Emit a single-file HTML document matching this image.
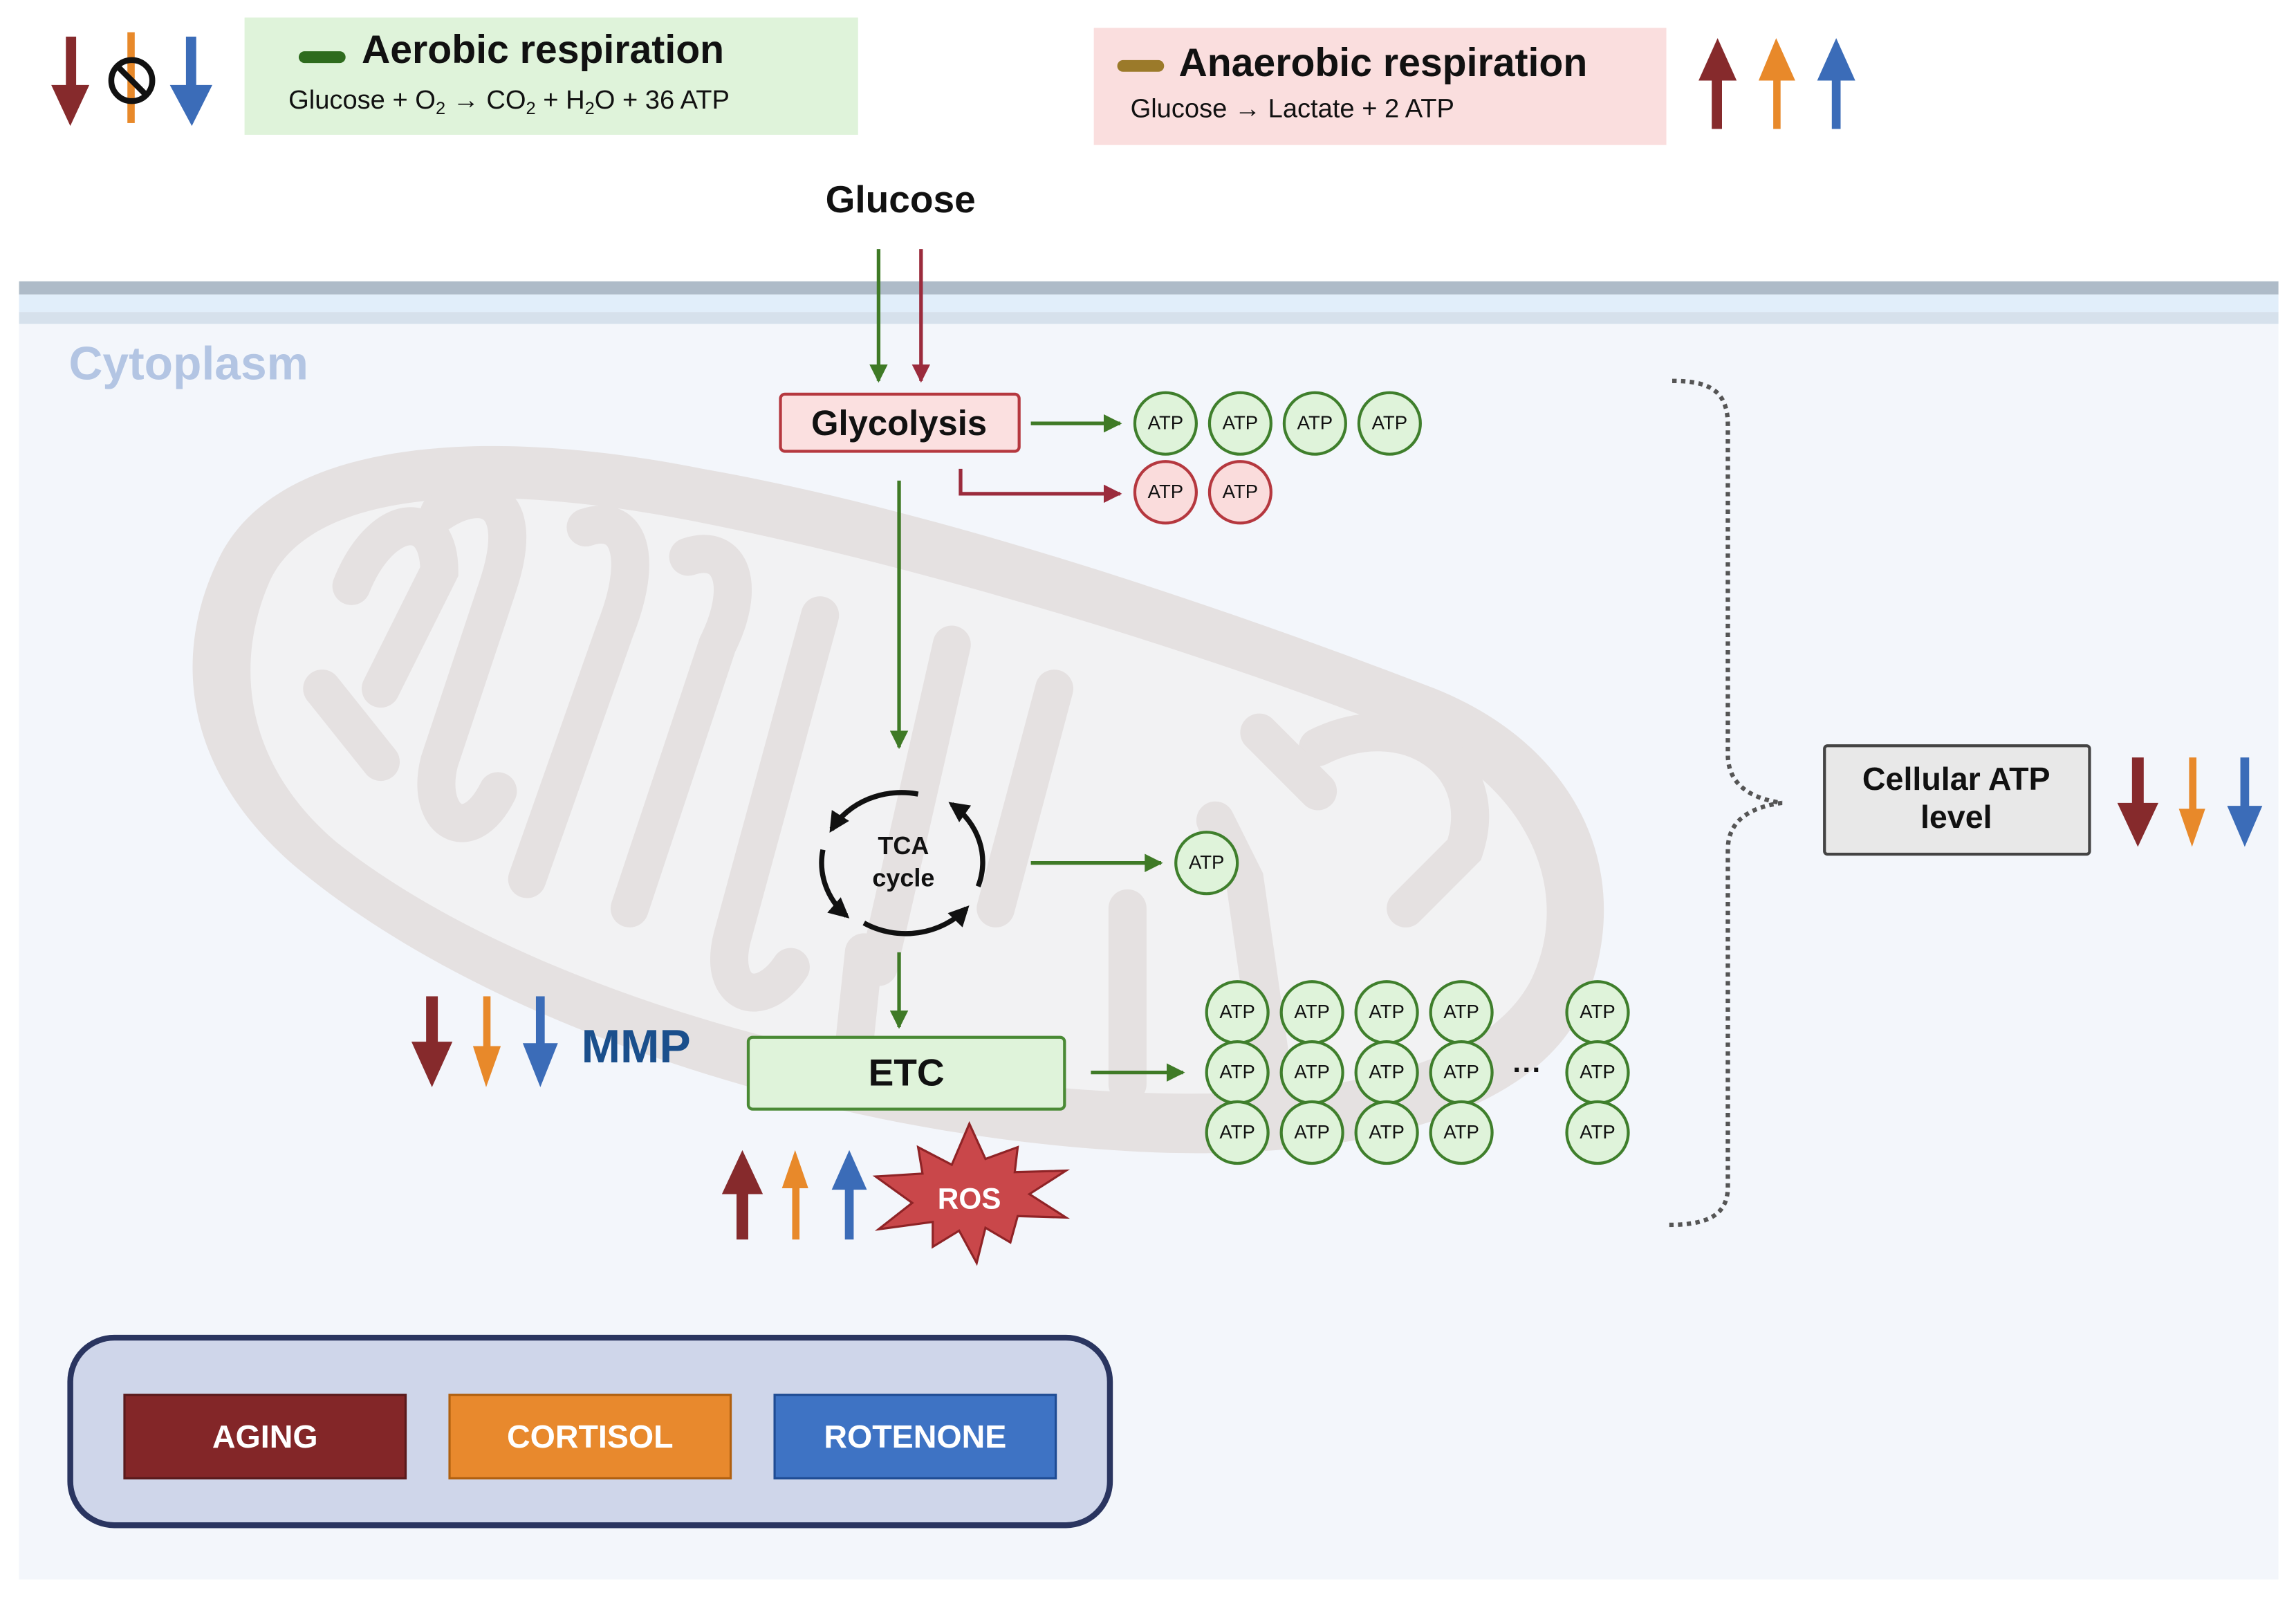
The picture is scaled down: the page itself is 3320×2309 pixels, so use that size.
<!DOCTYPE html>
<html><head><meta charset="utf-8"><style>
html,body{margin:0;padding:0;background:#fff;}
svg{display:block;}
text{font-family:"Liberation Sans",sans-serif;}
</style></head><body>
<svg width="3320" height="2309" viewBox="0 0 1568 1090" preserveAspectRatio="none" xmlns="http://www.w3.org/2000/svg">
<defs>
<marker id="mg" viewBox="0 0 10 10" refX="9" refY="5" markerWidth="5" markerHeight="5" orient="auto-start-reverse"><path d="M0,0L10,5L0,10z" fill="#3f7a26"/></marker>
<marker id="mr" viewBox="0 0 10 10" refX="9" refY="5" markerWidth="5" markerHeight="5" orient="auto-start-reverse"><path d="M0,0L10,5L0,10z" fill="#9b2b3c"/></marker>
<marker id="mk" viewBox="0 0 10 10" refX="8" refY="5" markerWidth="4" markerHeight="4" orient="auto"><path d="M0,0L10,5L0,10z" fill="#111"/></marker>
</defs>
<rect width="1568" height="1090" fill="#fff"/>
<!-- cell -->
<rect x="13" y="192" width="1543" height="886" fill="#f3f6fb"/>
<rect x="13" y="192" width="1543" height="9" fill="#aebbc8"/>
<rect x="13" y="201" width="1543" height="12" fill="#e1eefa"/>
<rect x="13" y="213" width="1543" height="8" fill="#d6e1ec"/>
<text x="47" y="259" font-size="32" font-weight="bold" fill="#b3c5e3">Cytoplasm</text>
<!-- mitochondrion -->
<path d="M150,380 C190,300 330,290 480,320 C650,350 850,420 980,470 C1080,510 1120,600 1080,690 C1040,770 900,795 760,785 C560,772 330,700 200,590 C120,520 120,440 150,380 Z" fill="#e5e1e1"/>
<path d="M185,395 C215,335 330,328 470,355 C640,388 840,452 960,500 C1045,535 1075,610 1045,670 C1010,735 890,752 760,745 C570,735 350,670 230,575 C165,520 160,450 185,395 Z" fill="#f2f2f3"/>
<g stroke="#e5e1e1" stroke-width="26" fill="none" stroke-linecap="round">
<path d="M240,400 C260,350 300,345 300,390 L260,470"/>
<path d="M300,350 C330,330 360,340 340,400 L300,520 C290,560 320,580 340,540"/>
<path d="M400,360 C430,350 440,380 420,430 L360,600"/>
<path d="M470,380 C500,370 510,400 490,440 L430,620"/>
<path d="M220,470 L260,520"/>
<path d="M560,420 L500,640 C490,680 520,690 540,660"/>
<path d="M650,440 L600,660"/>
<path d="M720,470 L680,620"/>
<path d="M590,650 L580,745"/>
<path d="M770,620 L770,740"/>
<path d="M830,560 L850,600 L870,740"/>
<path d="M900,510 C960,480 1020,520 1000,580 L960,620"/>
<path d="M860,500 L900,540"/>
</g>
<!-- top-left legend arrows -->
<rect x="45" y="25" width="7" height="35" fill="#862a2c"/><polygon points="35,58 61,58 48,86" fill="#862a2c"/>
<rect x="87" y="22" width="5" height="62" fill="#e8892a"/>
<circle cx="90" cy="55" r="14" fill="none" stroke="#111" stroke-width="4"/><line x1="80" y1="45" x2="100" y2="65" stroke="#111" stroke-width="4"/>
<rect x="127" y="25" width="7" height="35" fill="#3b6cb8"/><polygon points="116,58 145,58 131,86" fill="#3b6cb8"/>
<rect x="167" y="12" width="419" height="80" fill="#dff3da"/>
<rect x="204" y="35" width="32" height="8" rx="4" fill="#2e6b1e"/>
<text x="247" y="43" font-size="27" font-weight="bold" fill="#111">Aerobic respiration</text>
<text x="197" y="74" font-size="18" fill="#111">Glucose + O<tspan font-size="12" dy="4">2</tspan><tspan dy="-4"> → CO</tspan><tspan font-size="12" dy="4">2</tspan><tspan dy="-4"> + H</tspan><tspan font-size="12" dy="4">2</tspan><tspan dy="-4">O + 36 ATP</tspan></text>
<rect x="747" y="19" width="391" height="80" fill="#fadede"/>
<rect x="763" y="41" width="32" height="8" rx="4" fill="#9b7a2a"/>
<text x="805" y="52" font-size="27" font-weight="bold" fill="#111">Anaerobic respiration</text>
<text x="772" y="80" font-size="18" fill="#111">Glucose → Lactate + 2 ATP</text>
<g>
<rect x="1169" y="52" width="7" height="36" fill="#862a2c"/><polygon points="1160,55 1186,55 1173,26" fill="#862a2c"/>
<rect x="1211" y="52" width="5" height="36" fill="#e8892a"/><polygon points="1201,55 1226,55 1213,26" fill="#e8892a"/>
<rect x="1251" y="52" width="6" height="36" fill="#3b6cb8"/><polygon points="1241,55 1267,55 1254,26" fill="#3b6cb8"/>
</g>
<text x="615" y="145" font-size="26" font-weight="bold" fill="#111" text-anchor="middle">Glucose</text>
<line x1="600" y1="170" x2="600" y2="260" stroke="#3f7a26" stroke-width="2.5" marker-end="url(#mg)"/>
<line x1="629" y1="170" x2="629" y2="260" stroke="#9b2b3c" stroke-width="2.5" marker-end="url(#mr)"/>
<rect x="533" y="269" width="163" height="39" rx="3" fill="#fbe0e0" stroke="#b5383f" stroke-width="2"/>
<text x="614" y="297" font-size="24" font-weight="bold" fill="#111" text-anchor="middle">Glycolysis</text>
<line x1="704" y1="289" x2="765" y2="289" stroke="#3f7a26" stroke-width="2.5" marker-end="url(#mg)"/>
<path d="M656,320 L656,337 L765,337" fill="none" stroke="#9b2b3c" stroke-width="2.5" marker-end="url(#mr)"/>
<line x1="614" y1="328" x2="614" y2="510" stroke="#3f7a26" stroke-width="2.5" marker-end="url(#mg)"/>
<g font-size="13" text-anchor="middle" fill="#111">
<g fill="#dff3da" stroke="#3f7f2c" stroke-width="2">
<circle cx="796" cy="289" r="21"/><circle cx="847" cy="289" r="21"/><circle cx="898" cy="289" r="21"/><circle cx="949" cy="289" r="21"/>
<circle cx="824" cy="589" r="21"/>
<circle cx="845" cy="691" r="21"/><circle cx="896" cy="691" r="21"/><circle cx="947" cy="691" r="21"/><circle cx="998" cy="691" r="21"/><circle cx="1091" cy="691" r="21"/>
<circle cx="845" cy="732" r="21"/><circle cx="896" cy="732" r="21"/><circle cx="947" cy="732" r="21"/><circle cx="998" cy="732" r="21"/><circle cx="1091" cy="732" r="21"/>
<circle cx="845" cy="773" r="21"/><circle cx="896" cy="773" r="21"/><circle cx="947" cy="773" r="21"/><circle cx="998" cy="773" r="21"/><circle cx="1091" cy="773" r="21"/>
</g>
<g fill="#fadcdc" stroke="#b5383f" stroke-width="2"><circle cx="796" cy="336" r="21"/><circle cx="847" cy="336" r="21"/></g>
<text x="796" y="293">ATP</text><text x="847" y="293">ATP</text><text x="898" y="293">ATP</text><text x="949" y="293">ATP</text>
<text x="796" y="340">ATP</text><text x="847" y="340">ATP</text>
<text x="824" y="593">ATP</text>
<text x="845" y="695">ATP</text><text x="896" y="695">ATP</text><text x="947" y="695">ATP</text><text x="998" y="695">ATP</text><text x="1091" y="695">ATP</text>
<text x="845" y="736">ATP</text><text x="896" y="736">ATP</text><text x="947" y="736">ATP</text><text x="998" y="736">ATP</text><text x="1091" y="736">ATP</text>
<text x="845" y="777">ATP</text><text x="896" y="777">ATP</text><text x="947" y="777">ATP</text><text x="998" y="777">ATP</text><text x="1091" y="777">ATP</text>
</g>
<text x="1043" y="737" font-size="20" font-weight="bold" text-anchor="middle" fill="#111">···</text>
<!-- TCA -->
<g fill="none" stroke="#111" stroke-width="3.5">
<path d="M627,542 A55,50 0 0 0 568,566" marker-end="url(#mk)"/>
<path d="M562,580 A55,50 0 0 0 578,625" marker-end="url(#mk)"/>
<path d="M590,630 A55,50 0 0 0 660,620" marker-end="url(#mk)"/>
<path d="M668,605 A55,50 0 0 0 650,549" marker-end="url(#mk)"/>
</g>
<text x="617" y="583" font-size="17" font-weight="bold" text-anchor="middle" fill="#111">TCA</text>
<text x="617" y="605" font-size="17" font-weight="bold" text-anchor="middle" fill="#111">cycle</text>
<line x1="704" y1="589" x2="793" y2="589" stroke="#3f7a26" stroke-width="2.5" marker-end="url(#mg)"/>
<line x1="614" y1="650" x2="614" y2="701" stroke="#3f7a26" stroke-width="2.5" marker-end="url(#mg)"/>
<rect x="511" y="708" width="216" height="49" rx="3" fill="#dff3da" stroke="#4a8a35" stroke-width="2"/>
<text x="619" y="741" font-size="26" font-weight="bold" text-anchor="middle" fill="#111">ETC</text>
<line x1="745" y1="732" x2="808" y2="732" stroke="#3f7a26" stroke-width="2.5" marker-end="url(#mg)"/>
<!-- MMP -->
<rect x="291" y="680" width="8" height="34" fill="#862a2c"/><polygon points="281,711 309,711 295,742" fill="#862a2c"/>
<rect x="330" y="680" width="5" height="38" fill="#e8892a"/><polygon points="323,714 342,714 332,742" fill="#e8892a"/>
<rect x="366" y="680" width="6" height="36" fill="#3b6cb8"/><polygon points="357,712 381,712 369,742" fill="#3b6cb8"/>
<text x="397" y="725" font-size="32" font-weight="bold" fill="#1a4f8c">MMP</text>
<!-- ROS arrows -->
<rect x="503" y="812" width="8" height="34" fill="#862a2c"/><polygon points="493,815 521,815 507,785" fill="#862a2c"/>
<rect x="541" y="808" width="5" height="38" fill="#e8892a"/><polygon points="534,811 552,811 543,785" fill="#e8892a"/>
<rect x="577" y="810" width="6" height="36" fill="#3b6cb8"/><polygon points="568,812 592,812 580,785" fill="#3b6cb8"/>
<polygon points="662,767 673,791 695,783 693,800 728,799 703,815 728,831 695,830 690,848 673,838 667,862 655,840 637,851 637,834 600,839 623,821 598,803 630,801 627,783 650,795" fill="#c9474a" stroke="#8f2326" stroke-width="1.5"/>
<text x="662" y="825" font-size="20" font-weight="bold" text-anchor="middle" fill="#fff">ROS</text>
<!-- brace -->
<path d="M1142,260 C1165,260 1180,265 1180,290 L1180,515 C1180,535 1195,545 1217,548 C1195,551 1180,560 1180,580 L1180,810 C1180,830 1165,836 1140,836" fill="none" stroke="#555" stroke-width="3" stroke-dasharray="3,3"/>
<rect x="1246" y="509" width="181" height="74" rx="2" fill="#e8e8e8" stroke="#444" stroke-width="2"/>
<text x="1336" y="539" font-size="22" font-weight="bold" text-anchor="middle" fill="#111">Cellular ATP</text>
<text x="1336" y="565" font-size="22" font-weight="bold" text-anchor="middle" fill="#111">level</text>
<rect x="1456" y="517" width="8" height="34" fill="#862a2c"/><polygon points="1446,548 1474,548 1460,578" fill="#862a2c"/>
<rect x="1495" y="517" width="5" height="38" fill="#e8892a"/><polygon points="1488,552 1506,552 1497,578" fill="#e8892a"/>
<rect x="1530" y="517" width="6" height="36" fill="#3b6cb8"/><polygon points="1521,550 1545,550 1533,578" fill="#3b6cb8"/>
<!-- legend -->
<rect x="48" y="913" width="710" height="128" rx="30" fill="#cfd6ea" stroke="#2a3560" stroke-width="4"/>
<rect x="85" y="952" width="192" height="57" fill="#832628" stroke="#5a1a1c" stroke-width="1.5"/>
<rect x="307" y="952" width="192" height="57" fill="#e8892d" stroke="#b06010" stroke-width="1.5"/>
<rect x="529" y="952" width="192" height="57" fill="#3e73c4" stroke="#1f4c94" stroke-width="1.5"/>
<text x="181" y="988" font-size="22" font-weight="bold" text-anchor="middle" fill="#fff">AGING</text>
<text x="403" y="988" font-size="22" font-weight="bold" text-anchor="middle" fill="#fff">CORTISOL</text>
<text x="625" y="988" font-size="22" font-weight="bold" text-anchor="middle" fill="#fff">ROTENONE</text>
</svg>
</body></html>
